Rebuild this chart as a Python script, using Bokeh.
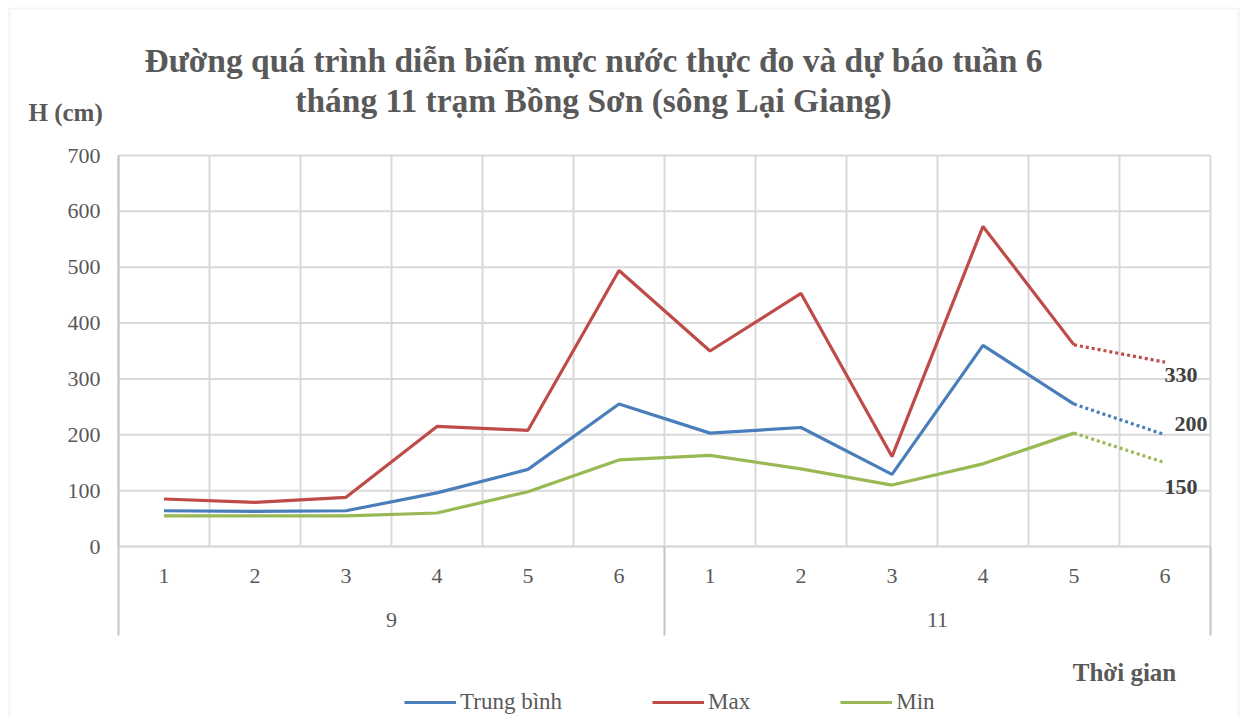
from bokeh.plotting import figure
from bokeh.models import (Range1d, FixedTicker, LinearAxis, CustomJSTickFormatter, Label, LabelSet,
                          ColumnDataSource, Legend, LegendItem, BoxAnnotation)
from bokeh.core.properties import value
from bokeh.embed import file_html
from bokeh.resources import INLINE

# ---------------- data ----------------
weeks = ["1", "2", "3", "4", "5", "6", "1", "2", "3", "4", "5", "6"]
months = ["9", "11"]
trung_binh = [64, 63, 64, 96, 138, 255, 203, 213, 129, 360, 255]
max_vals = [85, 79, 88, 215, 208, 494, 350, 453, 161, 573, 361]
min_vals = [55, 55, 55, 60, 98, 155, 163, 139, 110, 148, 203]
fc_trung_binh = 200
fc_max = 330
fc_min = 150
y_ticks = [0, 100, 200, 300, 400, 500, 600, 700]

title1 = "Đường quá trình diễn biến mực nước thực đo và dự báo tuần 6"
title2 = "tháng 11 trạm Bồng Sơn (sông Lại Giang)"
y_title = "H (cm)"
x_title = "Thời gian"

# ---------------- layout constants ----------------
W, H = 1240, 718
N = len(weeks)
GROUP = N // len(months)
FRAME_L, FRAME_T, FRAME_W, FRAME_H = 118, 155, 1092, 391
Y_MAX = 700
PXX = FRAME_W / N
PXY = FRAME_H / Y_MAX


def px_x(px):
    return (px - FRAME_L) / PXX


def px_y(py):
    return (FRAME_T + FRAME_H - py) / PXY


SERIF = "Liberation Serif"
GREY = "#595959"
GRID = "#D9D9D9"
AXIS = "#C4C4C4"
BLUE, RED, GREEN = "#4A7EBB", "#BE4B48", "#98B954"

x_obs = [i + 0.5 for i in range(len(trung_binh))]
x_fc = [x_obs[-1], N - 0.5]
bounds_x = list(range(N + 1))

p = figure(width=W, height=H, frame_width=W, frame_height=H,
           output_backend="svg", toolbar_location=None,
           x_range=Range1d(px_x(0), px_x(W)), y_range=Range1d(px_y(H), px_y(0)),
           x_axis_type=None, y_axis_type=None,
           min_border_left=0, min_border_right=0, min_border_top=0, min_border_bottom=0)
p.outline_line_color = None
p.background_fill_color = "white"
p.border_fill_color = "white"

# grid lines (plot area only)
p.segment(x0=[0] * len(y_ticks), y0=y_ticks, x1=[N] * len(y_ticks), y1=y_ticks,
          line_color=GRID, line_width=2)
p.segment(x0=bounds_x, y0=[0] * len(bounds_x), x1=bounds_x, y1=[Y_MAX] * len(bounds_x),
          line_color=GRID, line_width=2)

# y axis
yaxis = LinearAxis(ticker=FixedTicker(ticks=y_ticks), fixed_location=0, bounds=(0, Y_MAX),
                   axis_line_color=AXIS, axis_line_width=2,
                   major_tick_out=0, major_tick_in=0, minor_tick_out=0, minor_tick_in=0,
                   major_tick_line_color=None, minor_tick_line_color=None,
                   major_label_standoff=18, major_label_text_font=SERIF,
                   major_label_text_font_size="22px", major_label_text_color=GREY)
p.add_layout(yaxis, "left")

# x axis: weeks
xaxis1 = LinearAxis(ticker=FixedTicker(ticks=x_obs + [N - 0.5]), fixed_location=0, bounds=(0, N),
                    formatter=CustomJSTickFormatter(args=dict(labels=weeks),
                                                    code="return labels[Math.floor(tick)]"),
                    axis_line_color=GRID, axis_line_width=2,
                    major_tick_out=0, major_tick_in=0, minor_tick_out=0, minor_tick_in=0,
                    major_tick_line_color=None, minor_tick_line_color=None,
                    major_label_standoff=22, major_label_text_font=SERIF,
                    major_label_text_font_size="22px", major_label_text_color=GREY)
p.add_layout(xaxis1, "below")

# x axis: months (group labels)
xaxis2 = LinearAxis(ticker=FixedTicker(ticks=[g * GROUP + GROUP / 2 for g in range(len(months))]),
                    fixed_location=0, bounds=(0, N),
                    formatter=CustomJSTickFormatter(args=dict(labels=months, size=GROUP),
                                                    code="return labels[Math.floor(tick / size)]"),
                    axis_line_color=None,
                    major_tick_out=0, major_tick_in=0, minor_tick_out=0, minor_tick_in=0,
                    major_tick_line_color=None, minor_tick_line_color=None,
                    major_label_standoff=66, major_label_text_font=SERIF,
                    major_label_text_font_size="22px", major_label_text_color=GREY)
p.add_layout(xaxis2, "below")

# x axis: group separators
xaxis3 = LinearAxis(ticker=FixedTicker(ticks=list(range(0, N + 1, GROUP))),
                    fixed_location=0, bounds=(0, N),
                    axis_line_color=None,
                    major_tick_out=89, major_tick_in=0, minor_tick_out=0, minor_tick_in=0,
                    major_tick_line_color=AXIS, major_tick_line_width=2,
                    minor_tick_line_color=None, major_label_text_color=None)
p.add_layout(xaxis3, "below")

# series
r_tb = p.line(x_obs, trung_binh, line_color=BLUE, line_width=3.2)
r_mx = p.line(x_obs, max_vals, line_color=RED, line_width=3.2)
r_mn = p.line(x_obs, min_vals, line_color=GREEN, line_width=3.2)
p.line(x_fc, [trung_binh[-1], fc_trung_binh], line_color=BLUE, line_width=3.2, line_dash="3 3")
p.line(x_fc, [max_vals[-1], fc_max], line_color=RED, line_width=3.2, line_dash="3 3")
p.line(x_fc, [min_vals[-1], fc_min], line_color=GREEN, line_width=3.2, line_dash="3 3")

# forecast labels
fc_vals = [fc_max, fc_trung_binh, fc_min]
lab_src = ColumnDataSource(dict(x=[x_fc[1]] * 3, y=fc_vals, text=[str(v) for v in fc_vals],
                                dx=[16, 26, 16], dy=[-13, 11, -24]))
p.add_layout(LabelSet(x="x", y="y", text="text", source=lab_src, x_offset="dx", y_offset="dy",
                      text_align="center", text_baseline="middle",
                      text_font=value(SERIF), text_font_style="bold",
                      text_font_size="22px", text_color="#404040"))

# titles
for txt, cy in [(title1, 60), (title2, 100)]:
    p.add_layout(Label(x=px_x(593), y=px_y(cy), text=txt, text_align="center", text_baseline="middle",
                       text_font=SERIF, text_font_style="bold", text_font_size="33.5px",
                       text_color=GREY))
p.add_layout(Label(x=px_x(28), y=px_y(112), text=y_title, text_align="left", text_baseline="middle",
                   text_font=SERIF, text_font_style="bold", text_font_size="25px", text_color=GREY))
p.add_layout(Label(x=px_x(1124), y=px_y(672), text=x_title, text_align="center", text_baseline="middle",
                   text_font=SERIF, text_font_style="bold", text_font_size="25px", text_color=GREY))

# chart border
p.add_layout(BoxAnnotation(left=px_x(9), right=px_x(1238), top=px_y(8), bottom=px_y(H + 20),
                           fill_color=None, fill_alpha=0, line_color=GRID, line_width=2))

# legend
legend = Legend(items=[LegendItem(label="Trung bình", renderers=[r_tb]),
                       LegendItem(label="Max", renderers=[r_mx]),
                       LegendItem(label="Min", renderers=[r_mn])],
                orientation="horizontal", location=(404, H - 715),
                padding=0, margin=0, spacing=90, glyph_width=52, glyph_height=20,
                label_standoff=4, label_text_font=SERIF, label_text_font_size="23px",
                label_text_color=GREY, border_line_color=None, background_fill_alpha=0)
p.add_layout(legend)

open("out.html", "w").write(file_html(p, INLINE))
